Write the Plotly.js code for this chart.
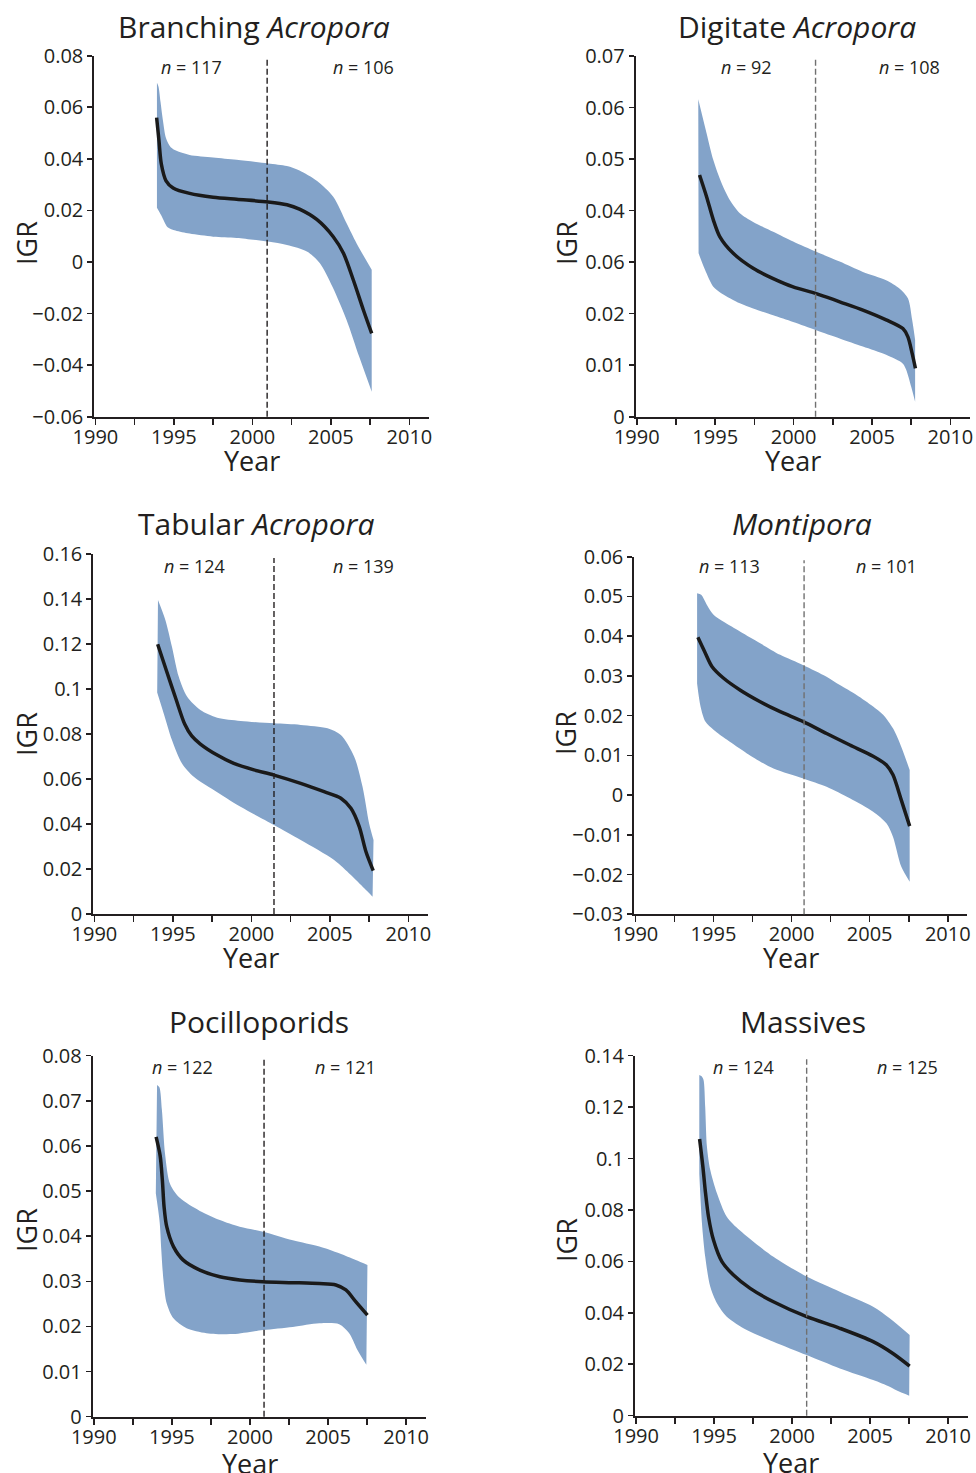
<!DOCTYPE html>
<html>
<head>
<meta charset="utf-8">
<script src="https://cdn.plot.ly/plotly-3.0.1.min.js"></script>
<style>
  html, body { margin: 0; padding: 0; background: #ffffff; }
  #chart { width: 976px; height: 1473px; }
</style>
</head>
<body>
<div id="chart"></div>
<script>
// ---------------- DATA ----------------
const panelTitles = ['Branching <i>Acropora</i>', 'Digitate <i>Acropora</i>', 'Tabular <i>Acropora</i>',
                     '<i>Montipora</i>', 'Pocilloporids', 'Massives'];
const nBefore = [117, 92, 124, 113, 122, 124];
const nAfter  = [106, 108, 139, 101, 121, 125];
const splitYears = [2000.94, 2001.4, 2001.44, 2000.8, 2000.9, 2000.93];

const xTickVals = [1990, 1992.5, 1995, 1997.5, 2000, 2002.5, 2005, 2007.5, 2010];
const xTickText = ['1990', '', '1995', '', '2000', '', '2005', '', '2010'];

// Branching Acropora
const branchMeanX = [1993.9, 1994.05, 1994.2, 1994.5, 1994.95, 1996.0, 1997.5, 1999.0, 2001.0, 2002.2, 2003.0, 2004.1, 2005.15, 2005.8, 2006.43, 2007.07, 2007.6];
const branchMeanY = [0.056, 0.047, 0.038, 0.0315, 0.0287, 0.0266, 0.0251, 0.0243, 0.0233, 0.0222, 0.0205, 0.0165, 0.0098, 0.0034, -0.007, -0.0186, -0.0277];
const branchUpX = [1993.92, 1994.02, 1994.15, 1994.3, 1994.5, 1994.8, 1995.2, 1996.0, 1997.5, 1999.0, 2001.0, 2002.2, 2003.0, 2004.1, 2005.15, 2006.0, 2006.64, 2007.6];
const branchUpY = [0.0695, 0.068, 0.062, 0.055, 0.048, 0.0445, 0.043, 0.0415, 0.0405, 0.0396, 0.0382, 0.0372, 0.0355, 0.0315, 0.0253, 0.015, 0.0072, -0.003];
const branchLoX = [1993.92, 1994.2, 1994.6, 1995.1, 1996.0, 1997.5, 1999.0, 2001.0, 2002.2, 2003.5, 2004.3, 2005.1, 2006.0, 2006.8, 2007.6];
const branchLoY = [0.021, 0.018, 0.0135, 0.0122, 0.011, 0.0098, 0.0093, 0.0079, 0.0066, 0.004, -0.0005, -0.0096, -0.0225, -0.0367, -0.0503];
const branchYTicks = [-0.06, -0.04, -0.02, 0, 0.02, 0.04, 0.06, 0.08];
const branchYText = ['\u22120.06', '\u22120.04', '\u22120.02', '0', '0.02', '0.04', '0.06', '0.08'];

// Digitate Acropora
const digMeanX = [1994.0, 1994.45, 1994.88, 1995.3, 1996.15, 1997.42, 1998.7, 1999.97, 2001.45, 2002.94, 2004.42, 2005.9, 2006.97, 2007.29, 2007.56, 2007.77];
const digMeanY = [0.0469, 0.0427, 0.0382, 0.0349, 0.0317, 0.0288, 0.0268, 0.0252, 0.0239, 0.0223, 0.0207, 0.0188, 0.0171, 0.0155, 0.0123, 0.0094];
const digUpX = [1993.92, 1994.45, 1994.88, 1995.41, 1995.94, 1996.57, 1997.42, 1998.7, 1999.97, 2001.45, 2002.94, 2004.42, 2005.9, 2006.75, 2007.29, 2007.56, 2007.75];
const digUpY = [0.0616, 0.055, 0.0498, 0.0453, 0.042, 0.0395, 0.0378, 0.0359, 0.034, 0.032, 0.0301, 0.0281, 0.0265, 0.0249, 0.023, 0.0188, 0.0149];
const digLoX = [1993.94, 1994.35, 1994.88, 1995.41, 1996.57, 1997.42, 1998.7, 1999.97, 2001.45, 2002.94, 2004.42, 2005.9, 2006.97, 2007.18, 2007.5, 2007.75];
const digLoY = [0.0317, 0.0285, 0.0252, 0.0239, 0.022, 0.021, 0.0197, 0.0184, 0.0168, 0.0152, 0.0136, 0.012, 0.0103, 0.0091, 0.0058, 0.0029];
const digYTicks = [0, 0.01, 0.02, 0.03, 0.04, 0.05, 0.06, 0.07];
const digYText = ['0', '0.01', '0.02', '0.06', '0.04', '0.05', '0.06', '0.07'];

// Tabular Acropora
const tabMeanX = [1994.03, 1994.6, 1995.2, 1995.75, 1996.2, 1996.75, 1997.82, 1998.88, 2000.16, 2001.44, 2003.14, 2004.63, 2005.7, 2006.34, 2006.87, 2007.3, 2007.76];
const tabMeanY = [0.12, 0.108, 0.0955, 0.0845, 0.0792, 0.0756, 0.0707, 0.067, 0.0641, 0.0618, 0.0581, 0.0544, 0.0515, 0.047, 0.0389, 0.0277, 0.0193];
const tabUpX = [1994.05, 1994.52, 1994.94, 1995.37, 1995.9, 1996.75, 1997.82, 1999.31, 2001.44, 2003.14, 2004.85, 2005.7, 2006.55, 2007.08, 2007.5, 2007.78];
const tabUpY = [0.1397, 0.1308, 0.1189, 0.1056, 0.0967, 0.0907, 0.0873, 0.0859, 0.0848, 0.0841, 0.0826, 0.0796, 0.07, 0.0566, 0.0403, 0.0329];
const tabLoX = [1994.0, 1994.41, 1994.94, 1995.58, 1996.33, 1997.6, 1999.31, 2001.44, 2003.14, 2005.27, 2006.34, 2007.19, 2007.72];
const tabLoY = [0.0985, 0.0893, 0.0774, 0.067, 0.0611, 0.0552, 0.0477, 0.0396, 0.0329, 0.024, 0.0173, 0.0114, 0.0077];
const tabYTicks = [0, 0.02, 0.04, 0.06, 0.08, 0.1, 0.12, 0.14, 0.16];
const tabYText = ['0', '0.02', '0.04', '0.06', '0.08', '0.1', '0.12', '0.14', '0.16'];

// Montipora
const monMeanX = [1994.0, 1994.48, 1994.91, 1995.65, 1996.72, 1997.99, 1999.27, 2000.75, 2002.24, 2003.73, 2005.22, 2006.07, 2006.49, 2007.02, 2007.56];
const monMeanY = [0.0397, 0.0357, 0.0323, 0.0294, 0.0264, 0.0235, 0.021, 0.0185, 0.0155, 0.0126, 0.0098, 0.0076, 0.0051, -0.0012, -0.0078];
const monUpX = [1993.95, 1994.21, 1994.59, 1995.02, 1995.65, 1996.72, 1997.99, 1999.27, 2000.75, 2002.24, 2003.09, 2004.16, 2005.22, 2005.86, 2006.49, 2007.02, 2007.56];
const monUpY = [0.0508, 0.0504, 0.0478, 0.0453, 0.0436, 0.0411, 0.0382, 0.0353, 0.0327, 0.0298, 0.0277, 0.0252, 0.0223, 0.0202, 0.0168, 0.0122, 0.0063];
const monLoX = [1993.95, 1994.17, 1994.48, 1995.02, 1995.87, 1997.14, 1998.84, 2000.75, 2002.24, 2003.73, 2005.22, 2006.07, 2006.49, 2007.02, 2007.56];
const monLoY = [0.0281, 0.0223, 0.0185, 0.0164, 0.0139, 0.0105, 0.0067, 0.0042, 0.0021, -0.0008, -0.0042, -0.0071, -0.0105, -0.018, -0.0218];
const monYTicks = [-0.03, -0.02, -0.01, 0, 0.01, 0.02, 0.03, 0.04, 0.05, 0.06];
const monYText = ['\u22120.03', '\u22120.02', '\u22120.01', '0', '0.01', '0.02', '0.03', '0.04', '0.05', '0.06'];

// Pocilloporids
const pocMeanX = [1993.99, 1994.25, 1994.39, 1994.5, 1994.67, 1995.1, 1995.73, 1996.79, 1998.07, 1999.34, 2000.83, 2002.74, 2004.44, 2005.5, 2006.14, 2006.77, 2007.52];
const pocMeanY = [0.062, 0.0578, 0.0524, 0.0465, 0.0421, 0.0377, 0.0347, 0.0325, 0.031, 0.0303, 0.0299, 0.0297, 0.0295, 0.0292, 0.0281, 0.0255, 0.0225];
const pocUpX = [1994.05, 1994.2, 1994.36, 1994.57, 1994.89, 1995.5, 1996.79, 1998.07, 1999.34, 2000.83, 2002.74, 2004.44, 2005.71, 2006.77, 2007.52];
const pocUpY = [0.0735, 0.073, 0.068, 0.058, 0.0515, 0.0485, 0.0456, 0.0436, 0.0421, 0.041, 0.0391, 0.0377, 0.0362, 0.0347, 0.0336];
const pocLoX = [1993.97, 1994.22, 1994.32, 1994.46, 1994.67, 1995.1, 1995.94, 1997.22, 1998.92, 2000.83, 2002.74, 2004.44, 2005.71, 2006.35, 2006.88, 2007.45];
const pocLoY = [0.0495, 0.043, 0.037, 0.0303, 0.0251, 0.0218, 0.0196, 0.0185, 0.0183, 0.0192, 0.0199, 0.0207, 0.0205, 0.0185, 0.0148, 0.0115];
const pocYTicks = [0, 0.01, 0.02, 0.03, 0.04, 0.05, 0.06, 0.07, 0.08];
const pocYText = ['0', '0.01', '0.02', '0.03', '0.04', '0.05', '0.06', '0.07', '0.08'];

// Massives
const masMeanX = [1994.07, 1994.28, 1994.43, 1994.64, 1994.96, 1995.5, 1996.24, 1997.31, 1998.8, 2000.93, 2003.06, 2005.19, 2006.46, 2007.53];
const masMeanY = [0.1076, 0.0968, 0.0877, 0.0774, 0.0683, 0.0599, 0.0547, 0.0495, 0.0443, 0.0385, 0.034, 0.0288, 0.0242, 0.0193];
const masUpX = [1994.05, 1994.2, 1994.32, 1994.43, 1994.54, 1994.75, 1995.18, 1995.81, 1996.66, 1998.8, 2000.93, 2003.06, 2005.19, 2006.25, 2007.53];
const masUpY = [0.1325, 0.132, 0.1306, 0.12, 0.1046, 0.0956, 0.0865, 0.0774, 0.072, 0.0618, 0.0541, 0.0482, 0.0424, 0.0379, 0.0314];
const masLoX = [1994.05, 1994.22, 1994.43, 1994.75, 1995.18, 1995.81, 1997.09, 1998.8, 2000.93, 2003.06, 2005.19, 2006.25, 2006.89, 2007.5];
const masLoY = [0.094, 0.0748, 0.0618, 0.0502, 0.0437, 0.0385, 0.0333, 0.0288, 0.0236, 0.0184, 0.0139, 0.0113, 0.0093, 0.0078];
const masYTicks = [0, 0.02, 0.04, 0.06, 0.08, 0.1, 0.12, 0.14];
const masYText = ['0', '0.02', '0.04', '0.06', '0.08', '0.1', '0.12', '0.14'];

// ---------------- LAYOUT / STYLE ----------------
const W = 976, H = 1473;
const FONT = 'Open Sans, Noto Sans, DejaVu Sans, sans-serif';
const INK = '#231f20';
const BAND = '#83a3c9';

const panels = [
  { mx: branchMeanX, my: branchMeanY, ux: branchUpX, uy: branchUpY, lx: branchLoX, ly: branchLoY, yt: branchYTicks, ytt: branchYText, yr: [-0.06, 0.08],
    px: [94.3, 429], py: [55.7, 416.7], dash: '#231f20', nx: [1996.1, 2007.1], ny: 67, tx: 254, ty: 27, igr: [26, 243], year: [252, 460] },
  { mx: digMeanX, my: digMeanY, ux: digUpX, uy: digUpY, lx: digLoX, ly: digLoY, yt: digYTicks, ytt: digYText, yr: [0, 0.07],
    px: [635.7, 970], py: [56, 416.7], dash: '#707070', nx: [1997.0, 2007.4], ny: 67, tx: 797, ty: 27, igr: [566, 243], year: [793, 460] },
  { mx: tabMeanX, my: tabMeanY, ux: tabUpX, uy: tabUpY, lx: tabLoX, ly: tabLoY, yt: tabYTicks, ytt: tabYText, yr: [0, 0.16],
    px: [93.3, 428], py: [554.3, 914], dash: '#231f20', nx: [1996.4, 2007.15], ny: 566, tx: 256, ty: 524, igr: [26, 734], year: [251, 957] },
  { mx: monMeanX, my: monMeanY, ux: monUpX, uy: monUpY, lx: monLoX, ly: monLoY, yt: monYTicks, ytt: monYText, yr: [-0.03, 0.06],
    px: [634.3, 967.3], py: [556.7, 914.3], dash: '#707070', nx: [1996.0, 2006.1], ny: 566, tx: 802, ty: 524, igr: [566, 733], year: [791, 957] },
  { mx: pocMeanX, my: pocMeanY, ux: pocUpX, uy: pocUpY, lx: pocLoX, ly: pocLoY, yt: pocYTicks, ytt: pocYText, yr: [0, 0.08],
    px: [92.7, 425.7], py: [1055.7, 1416.7], dash: '#231f20', nx: [1995.7, 2006.1], ny: 1067, tx: 259, ty: 1021, igr: [26, 1230], year: [250, 1463] },
  { mx: masMeanX, my: masMeanY, ux: masUpX, uy: masUpY, lx: masLoX, ly: masLoY, yt: masYTicks, ytt: masYText, yr: [0, 0.14],
    px: [635, 967.7], py: [1055.7, 1415.7], dash: '#707070', nx: [1996.9, 2007.4], ny: 1067, tx: 803, ty: 1021, igr: [566, 1240], year: [791, 1462] }
];

const data = [];
const layout = {
  width: W, height: H,
  margin: { l: 0, r: 0, t: 0, b: 0 },
  paper_bgcolor: '#ffffff', plot_bgcolor: 'rgba(0,0,0,0)',
  showlegend: false,
  font: { family: FONT, color: INK },
  annotations: [], shapes: []
};

const px2x = p => p / W;
const px2y = p => 1 - p / H;

panels.forEach((p, i) => {
  const k = i === 0 ? '' : String(i + 1);
  const xa = 'x' + k, ya = 'y' + k;
  data.push({ x: p.lx, y: p.ly, xaxis: xa, yaxis: ya, type: 'scatter', mode: 'lines',
              line: { width: 0, shape: 'spline', smoothing: 0.8, color: BAND }, hoverinfo: 'skip' });
  data.push({ x: p.ux, y: p.uy, xaxis: xa, yaxis: ya, type: 'scatter', mode: 'lines', fill: 'tonexty',
              fillcolor: BAND, line: { width: 0, shape: 'spline', smoothing: 0.8, color: BAND }, hoverinfo: 'skip' });
  data.push({ x: p.mx, y: p.my, xaxis: xa, yaxis: ya, type: 'scatter', mode: 'lines',
              line: { width: 3.5, color: '#1a1a1a', shape: 'spline', smoothing: 0.8 } });

  layout['xaxis' + k] = {
    domain: [px2x(p.px[0]), px2x(p.px[1])], range: [1989.93, 2011.25], anchor: ya,
    showline: true, linecolor: INK, linewidth: 2, ticks: 'outside', ticklen: 6, tickwidth: 1.6, tickcolor: INK,
    tickmode: 'array', tickvals: xTickVals, ticktext: xTickText, showgrid: false, zeroline: false,
    ticklabelstandoff: -5,
    tickfont: { family: FONT, size: 20, color: INK }, fixedrange: true
  };
  layout['yaxis' + k] = {
    domain: [px2y(p.py[1]), px2y(p.py[0])], range: p.yr, anchor: xa,
    showline: true, linecolor: INK, linewidth: 2, ticks: 'outside', ticklen: 5, tickwidth: 1.6, tickcolor: INK,
    tickmode: 'array', tickvals: p.yt, ticktext: p.ytt, showgrid: false, zeroline: false,
    tickfont: { family: FONT, size: 20, color: INK }, fixedrange: true
  };

  layout.shapes.push({ type: 'line', xref: xa, yref: ya + ' domain', x0: splitYears[i], x1: splitYears[i], y0: 0, y1: 0.99,
                       line: { color: p.dash, width: 1.4, dash: '6px,3px' } });

  layout.annotations.push({ text: panelTitles[i], xref: 'paper', yref: 'paper', x: px2x(p.tx), y: px2y(p.ty),
                            xanchor: 'center', yanchor: 'middle', showarrow: false, font: { family: FONT, size: 30, color: INK } });
  layout.annotations.push({ text: '<i>n</i> = ' + nBefore[i], xref: xa, yref: 'paper', x: p.nx[0], y: px2y(p.ny),
                            xanchor: 'center', yanchor: 'middle', showarrow: false, font: { family: FONT, size: 18, color: INK } });
  layout.annotations.push({ text: '<i>n</i> = ' + nAfter[i], xref: xa, yref: 'paper', x: p.nx[1], y: px2y(p.ny),
                            xanchor: 'center', yanchor: 'middle', showarrow: false, font: { family: FONT, size: 18, color: INK } });
  layout.annotations.push({ text: 'IGR', xref: 'paper', yref: 'paper', x: px2x(p.igr[0]), y: px2y(p.igr[1]), textangle: -90,
                            xanchor: 'center', yanchor: 'middle', showarrow: false, font: { family: FONT, size: 27, color: INK } });
  layout.annotations.push({ text: 'Year', xref: 'paper', yref: 'paper', x: px2x(p.year[0]), y: px2y(p.year[1]),
                            xanchor: 'center', yanchor: 'middle', showarrow: false, font: { family: FONT, size: 27, color: INK } });
});

Plotly.newPlot('chart', data, layout, { displayModeBar: false, staticPlot: true });
</script>
</body>
</html>
